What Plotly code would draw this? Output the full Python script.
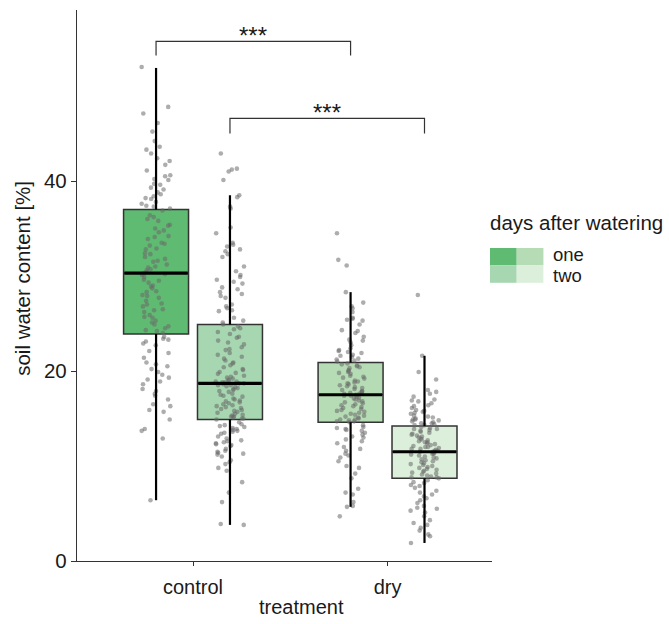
import math
import plotly.graph_objects as go

# ---- data -----------------------------------------------------------------
treatments = ["control", "dry"]
days = ["one", "two"]

# box statistics per group: control/one, control/two, dry/one, dry/two
group_labels = ["control / one", "control / two", "dry / one", "dry / two"]
q1 = [23.9, 14.9, 14.6, 8.7]
median = [30.3, 18.7, 17.5, 11.5]
q3 = [37.0, 24.9, 20.9, 14.2]
whisker_low = [6.4, 3.8, 5.7, 1.9]
whisker_high = [51.9, 38.5, 28.3, 21.6]

# soil water content measurements [%]
control_one = [
    52.0, 47.8, 47.1, 46.1, 45.2, 44.2, 43.6, 43.3, 42.9, 42.4, 42.1, 41.7, 41.1, 40.6, 40.5, 40.2,
    40.1, 39.7, 39.6, 39.3, 39.1, 38.8, 38.6, 38.4, 38.2, 38.1, 37.8, 37.6, 37.4, 37.3, 37.1,
    36.9, 36.4, 36.2, 36.0, 35.8, 35.4, 35.3, 35.0, 34.8, 34.6, 34.2, 34.1, 33.9, 33.5, 33.4, 33.2,
    32.9, 32.8, 32.4, 32.3, 32.0, 31.8, 31.6, 31.5, 31.2, 31.0, 30.9, 30.7, 30.6, 30.4, 30.3,
    30.2, 30.1, 29.9, 29.6, 29.5, 29.3, 29.0, 28.9, 28.7, 28.4, 28.3, 28.0, 27.9, 27.7, 27.4, 27.1,
    27.0, 26.8, 26.5, 26.4, 26.2, 25.9, 25.7, 25.6, 25.3, 25.1, 24.9, 24.7, 24.5, 24.3, 24.2, 24.0,
    23.6, 23.4, 23.3, 23.1, 22.9, 22.7, 22.1, 21.9, 21.4, 20.9, 20.7, 20.5, 20.2, 19.9, 19.6, 19.3,
    19.1, 18.9, 18.6, 18.1, 17.9, 17.6, 17.4, 17.0, 16.5, 16.3, 15.9, 15.7, 14.9, 13.9, 13.7, 12.9, 6.4,
]
control_two = [
    42.9, 41.3, 41.2, 41.0, 40.1, 38.5, 38.3, 37.3, 37.1, 35.1, 34.5, 33.5, 33.3, 33.1, 32.8, 32.6,
    32.3, 32.0, 31.0, 30.5, 30.1, 29.9, 29.6, 29.4, 29.2, 28.8, 28.6, 28.3, 28.1, 27.9, 27.7, 27.0,
    26.8, 26.6, 26.4, 26.3, 25.6, 25.3, 25.1, 24.9,
    24.7, 24.5, 24.4, 24.1, 23.9, 23.6, 23.5, 23.2, 23.0, 22.8, 22.5, 22.3, 22.2, 21.9, 21.7, 21.5,
    21.3, 21.1, 20.9, 20.8, 20.6, 20.4, 20.2, 20.1, 19.9, 19.8, 19.7, 19.5, 19.4, 19.3, 19.2, 19.1,
    19.0, 18.9, 18.9, 18.8, 18.8, 18.7, 18.7,
    18.6, 18.5, 18.5, 18.4, 18.3, 18.2, 18.1, 18.0, 17.9, 17.8, 17.6, 17.5, 17.4, 17.3, 17.1, 17.0,
    16.9, 16.8, 16.7, 16.6, 16.5, 16.4, 16.3, 16.2, 16.1, 16.0, 15.9, 15.8, 15.7, 15.6, 15.5, 15.4,
    15.3, 15.2, 15.2, 15.1, 15.0, 15.0, 14.9,
    14.6, 14.4, 14.3, 14.2, 14.1, 14.0, 13.9, 13.8, 13.7, 13.6, 13.5, 13.4, 13.1, 12.9, 12.7, 12.6,
    12.5, 12.4, 12.3, 12.2, 12.1, 11.8, 11.6, 11.5, 11.4, 11.3, 11.2, 11.0, 10.6, 10.4, 10.2, 9.8,
    9.5, 8.3, 7.2, 6.2, 3.9, 3.8,
]
dry_one = [
    34.5, 31.7, 31.1, 28.3, 27.2, 26.8, 26.6, 26.2, 25.6, 25.5, 25.4, 25.3, 24.9, 24.3, 24.2, 24.0,
    23.6, 23.3, 23.2, 23.0, 22.7, 22.4, 22.2, 22.1, 22.0, 21.9, 21.7, 21.6, 21.5, 21.3, 21.2, 21.1, 21.0,
    20.8, 20.7, 20.6, 20.5, 20.4, 20.3, 20.1, 20.0, 19.9, 19.8, 19.7, 19.5, 19.4, 19.3, 19.2, 19.0,
    18.9, 18.8, 18.7, 18.6, 18.5, 18.4, 18.3, 18.2, 18.1, 18.0, 17.9, 17.8, 17.8, 17.7, 17.6, 17.6, 17.5,
    17.4, 17.4, 17.3, 17.2, 17.1, 17.0, 16.9, 16.8, 16.7, 16.6, 16.5, 16.4, 16.3, 16.2, 16.1, 16.0,
    15.9, 15.8, 15.7, 15.6, 15.5, 15.4, 15.3, 15.2, 15.1, 15.0, 14.9, 14.9, 14.8, 14.7, 14.7, 14.6,
    14.3, 14.1, 14.0, 13.9, 13.8, 13.7, 13.5, 13.3, 13.1, 13.0, 12.8, 12.6, 12.4, 12.0, 11.8, 11.6,
    11.3, 11.1, 10.9, 10.5, 10.0, 9.8, 9.2, 8.7, 7.6, 7.2, 7.0, 6.2, 5.8, 5.7, 4.7,
]
dry_two = [
    28.0, 21.6, 19.9, 19.1, 18.0, 17.8, 17.6, 17.3, 17.0, 16.9, 16.8, 16.6, 16.4, 16.3, 16.1, 15.9,
    15.8, 15.7, 15.6, 15.5, 15.3, 15.2, 15.1, 15.0, 14.9, 14.9, 14.8, 14.7, 14.6, 14.5, 14.5, 14.4,
    14.3, 14.3,
    14.1, 14.0, 13.9, 13.9, 13.8, 13.7, 13.6, 13.5, 13.4, 13.3, 13.2, 13.1, 13.0, 12.9, 12.8, 12.7,
    12.6, 12.5, 12.5, 12.4, 12.3, 12.2, 12.1, 12.0, 12.0, 11.9, 11.8, 11.8, 11.7, 11.6, 11.6, 11.5, 11.5,
    11.4, 11.3, 11.3, 11.2, 11.1, 11.0, 10.9, 10.8, 10.7, 10.6, 10.5, 10.4, 10.3, 10.2, 10.1, 10.0,
    9.9, 9.8, 9.7, 9.6, 9.5, 9.4, 9.3, 9.2, 9.1, 9.0, 8.9, 8.8, 8.8, 8.7,
    8.5, 8.3, 8.2, 8.0, 7.9, 7.7, 7.4, 7.2, 7.0, 6.8, 6.6, 6.4, 6.1, 5.8, 5.6, 5.5, 5.3, 5.1, 4.7,
    4.3, 4.0, 3.8, 3.5, 3.2, 2.8, 2.6, 1.9,
]
samples = [control_one, control_two, dry_one, dry_two]

# significance comparisons: (group index a, group index b, bracket height, tip drop, label)
comparisons = [(0, 2, 54.7, 1.5, "***"), (1, 3, 46.6, 1.6, "***")]

# ---- styling --------------------------------------------------------------
FONT = "Liberation Sans, Arial, Helvetica, sans-serif"
TXT = "#1a1a1a"
fills = ["#5fba72", "#a6d7b0", "#b5dcb4", "#dbefda"]
DODGE = 0.19
BOX_W = 0.334
JITTER = 0.074

# group centre on the numeric x axis: treatment slot +/- dodge per day
centres = []
for t in range(len(treatments)):
    for d in range(len(days)):
        centres.append(t + 1 + (d - 0.5) * 2 * DODGE)


def spread(k, g):
    """Deterministic horizontal jitter in [-1, 1] for the k-th point of group g."""
    h = math.sin(k * 12.9898 + g * 78.233) * 43758.5453
    return (h - math.floor(h)) * 2 - 1


fig = go.Figure()

# boxes (whiskers drawn separately so they can be black and cap-less)
for i in range(4):
    fig.add_trace(go.Box(
        x=[centres[i]], q1=[q1[i]], median=[median[i]], q3=[q3[i]],
        lowerfence=[q1[i]], upperfence=[q3[i]],
        width=BOX_W, whiskerwidth=0, boxpoints=False,
        fillcolor=fills[i], line=dict(color="#333333", width=1.5),
        hoverinfo="skip", showlegend=False,
    ))

# jittered raw measurements
for i, vals in enumerate(samples):
    xs = [centres[i] + spread(k, i) * JITTER for k in range(len(vals))]
    fig.add_trace(go.Scatter(
        x=xs, y=vals, mode="markers",
        marker=dict(size=4.6, color="rgba(105,105,105,0.55)", line=dict(width=0)),
        hoverinfo="skip", showlegend=False,
    ))

# whiskers and medians
for i in range(4):
    c = centres[i]
    fig.add_trace(go.Scatter(
        x=[c, c, None, c, c], y=[whisker_low[i], q1[i], None, q3[i], whisker_high[i]],
        mode="lines", line=dict(color="black", width=2.2),
        hoverinfo="skip", showlegend=False,
    ))
    fig.add_trace(go.Scatter(
        x=[c - BOX_W / 2 + 0.004, c + BOX_W / 2 - 0.004], y=[median[i], median[i]],
        mode="lines", line=dict(color="black", width=3.2),
        hoverinfo="skip", showlegend=False,
    ))

# significance brackets
annotations = []
for a, b, h, drop, lab in comparisons:
    xa, xb = centres[a], centres[b]
    fig.add_trace(go.Scatter(
        x=[xa, xa, xb, xb], y=[h - drop, h, h, h - drop],
        mode="lines", line=dict(color="#333333", width=1.2),
        hoverinfo="skip", showlegend=False,
    ))
    annotations.append(dict(
        x=(xa + xb) / 2, y=h + 0.6, xref="x", yref="y", text=lab, showarrow=False,
        xanchor="center", yanchor="middle", font=dict(family=FONT, size=24, color=TXT),
    ))

# axis titles
annotations.append(dict(
    x=0.54, y=-0.083, xref="paper", yref="paper", text="treatment", showarrow=False,
    xanchor="center", yanchor="middle", font=dict(family=FONT, size=20, color=TXT),
))
annotations.append(dict(
    x=-0.133, y=0.5136, xref="paper", yref="paper", text="soil water content [%]",
    showarrow=False, textangle=-90, xanchor="center", yanchor="middle",
    font=dict(family=FONT, size=20.5, color=TXT),
))

# legend: each day level shows its control and dry fill side by side
PW, PH, L, T = 415.0, 551.0, 77.0, 10.0


def px_x(p):
    return (p - L) / PW


def px_y(p):
    return (T + PH - p) / PH


shapes = []
key_left, key_w, key_h, key_top = 490.0, 26.7, 17.4, 248.0
legend_fills = [[fills[0], fills[2]], [fills[1], fills[3]]]
label_nudge = [-1.9, 1.9]
for r, lvl in enumerate(days):
    y0 = key_top + r * key_h
    for cidx in range(2):
        x0 = key_left + cidx * key_w
        shapes.append(dict(
            type="rect", xref="paper", yref="paper",
            x0=px_x(x0), x1=px_x(x0 + key_w), y0=px_y(y0 + key_h), y1=px_y(y0),
            fillcolor=legend_fills[r][cidx], line=dict(width=0), layer="above",
        ))
    annotations.append(dict(
        x=px_x(551), y=px_y(y0 + key_h / 2 + label_nudge[r]), xref="paper", yref="paper",
        text=lvl, showarrow=False, xanchor="left", yanchor="middle",
        font=dict(family=FONT, size=18.5, color=TXT),
    ))
annotations.append(dict(
    x=px_x(488), y=px_y(222), xref="paper", yref="paper", text="days after watering",
    showarrow=False, xanchor="left", yanchor="middle",
    font=dict(family=FONT, size=20.5, color=TXT),
))

fig.update_layout(
    width=669, height=624,
    margin=dict(l=77, r=177, t=10, b=63, pad=0),
    paper_bgcolor="white", plot_bgcolor="white",
    showlegend=False,
    annotations=annotations, shapes=shapes,
    xaxis=dict(
        range=[0.4036, 2.537], tickvals=[1, 2], ticktext=treatments,
        showline=True, linecolor="#333333", linewidth=1.3,
        ticks="outside", ticklen=4, tickcolor="#333333", tickwidth=1.3,
        ticklabelstandoff=4,
        showgrid=False, zeroline=False,
        tickfont=dict(family=FONT, size=20, color=TXT),
    ),
    yaxis=dict(
        range=[0, 58], tickvals=[0, 20, 40],
        showline=True, linecolor="#333333", linewidth=1.3,
        ticks="outside", ticklen=5, tickcolor="#333333", tickwidth=1.3,
        showgrid=False, zeroline=False,
        tickfont=dict(family=FONT, size=20.5, color=TXT),
    ),
)

fig.write_html("out.html")
